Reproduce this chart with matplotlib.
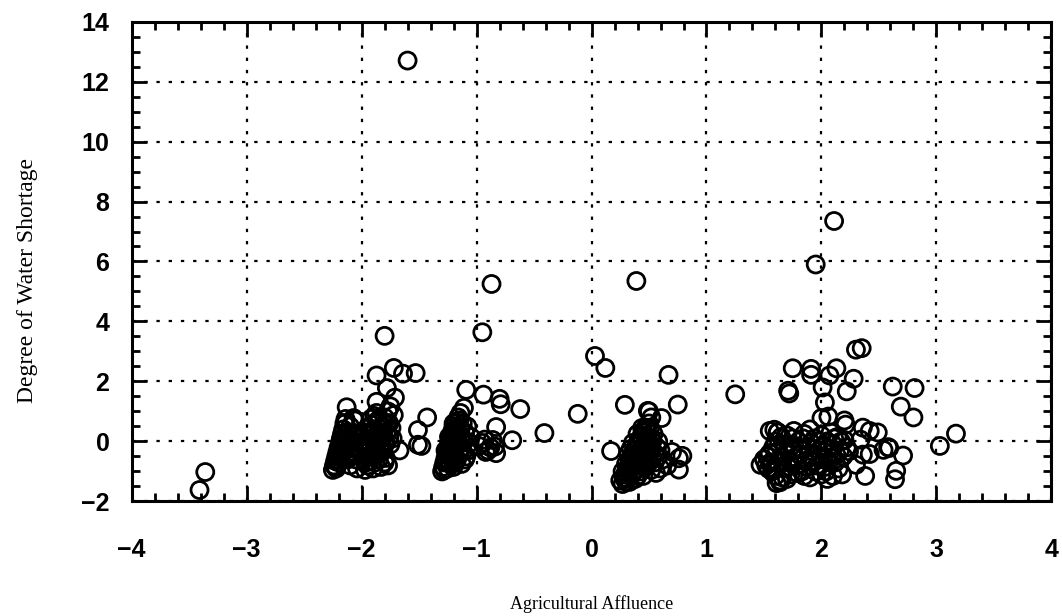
import numpy as np
import matplotlib.pyplot as plt
from matplotlib.ticker import MultipleLocator

# --- data (Agricultural Affluence, Degree of Water Shortage) ---
# isolated / outlying points
x_out = [-3.36, -3.41, -1.60, -0.87, 0.39, 1.95, 2.11,
         -1.80, -1.72, -1.87, -1.64, -1.53, -1.78, -1.71, -1.87, -2.13, -1.75,
         -1.43, -1.51, -1.48, -1.67, -2.07, -2.14, -1.72, -1.51,
         -0.95, -1.09, -0.94, -0.80, -0.79, -1.11, -0.83, -0.69, -0.62, -0.41, -0.12,
         -0.93, -0.84, -0.83, -0.98, -0.90,
         0.03, 0.12, 0.67, 0.75, 1.25, 0.29, 0.49, 0.50, 0.61, 0.17,
         0.76, 0.79, 0.76, 0.70, 0.66,
         2.13, 1.75, 1.91, 1.91, 2.07, 2.28, 2.22, 1.72, 2.62, 2.81, 2.01, 2.03,
         2.69, 2.80, 2.06, 2.20, 3.17, 3.03, 2.36, 2.42, 2.49, 2.58, 2.42, 2.71,
         2.38, 2.65, 2.64, 2.30, 2.35, 2.21, 2.34, 2.24, 2.59, 2.54, 1.62, 1.64,
         1.54, 2.30, 2.36, 1.59, 1.61, 1.47, 1.71, 2.00]
y_out = [-1.02, -1.62, 12.70, 5.25, 5.35, 5.90, 7.35,
         3.52, 2.45, 2.20, 2.26, 2.28, 1.78, 1.46, 1.32, 1.14, 1.17,
         0.80, 0.38, -0.15, -0.30, 0.78, 0.61, 0.88, -0.11,
         3.64, 1.72, 1.56, 1.42, 1.24, 1.12, 0.48, 0.04, 1.08, 0.28, 0.92,
         0.06, -0.17, -0.39, -0.15, -0.30,
         2.85, 2.45, 2.22, 1.23, 1.57, 1.22, 1.02, 1.00, 0.78, -0.32,
         -0.56, -0.48, -0.94, -0.35, -0.80,
         2.44, 2.44, 2.42, 2.22, 2.20, 2.09, 1.67, 1.60, 1.83, 1.78, 1.80, 1.30,
         1.16, 0.80, 0.83, 0.70, 0.26, -0.15, 0.46, 0.35, 0.30, -0.19, -0.42, -0.47,
         -1.15, -0.98, -1.26, 3.06, 3.11, 0.56, 0.06, -0.33, -0.22, -0.28, 0.31, -1.36,
         -0.91, -0.78, -0.44, 0.39, -1.39, -0.78, 1.69, 0.78]

# dense group around -2
x_a = [-2.25, -2.24, -2.23, -2.22, -2.21, -2.20, -2.19, -2.18, -2.17, -2.16, -2.15, -2.14,
       -2.22, -2.20, -2.18, -2.16, -2.14, -2.12, -2.10, -2.12, -2.10, -2.08, -2.06, -2.08,
       -2.10, -2.05, -2.04, -2.02, -2.00, -2.03, -2.06,
       -1.97, -1.95, -1.93, -1.96, -1.94, -1.92, -1.95, -1.90, -1.93, -1.88, -1.91, -1.86,
       -1.89, -1.90, -1.88, -1.86, -1.84, -1.86, -1.83, -1.85, -1.82, -1.80, -1.81, -1.79,
       -1.78, -1.76, -1.75, -1.77, -1.73, -1.74, -1.87, -1.92, -1.83, -1.80, -1.97, -1.99,
       -1.98, -1.77,
       -2.23, -2.21, -2.19, -2.17, -2.15, -2.13, -2.11, -2.09, -2.07, -2.05, -1.96, -1.94,
       -1.92, -1.90, -1.89, -1.87, -1.85, -1.84, -1.83, -1.82, -1.81, -1.79, -1.78, -1.76,
       -1.87, -1.91, -1.95, -1.85, -1.80, -1.88]
y_a = [-0.95, -0.80, -0.65, -0.50, -0.35, -0.20, -0.05, 0.10, 0.25, 0.40, 0.60, 0.75,
       -0.90, -0.70, -0.55, -0.30, -0.10, 0.10, -0.80, -0.60, -0.40, -0.20, 0.00, 0.30,
       0.50, -0.60, -0.90, -0.30, -0.10, 0.20, 0.70,
       -0.95, -0.80, -0.65, -0.50, -0.35, -0.20, -0.05, 0.10, 0.25, 0.40, 0.55, 0.70,
       0.85, -0.90, -0.70, -0.45, -0.25, -0.05, 0.15, 0.30, 0.50, 0.00, -0.30, -0.55,
       0.30, 0.60, -0.10, -0.80, 0.10, 0.45, 0.95, 0.75, -0.85, 0.80, 0.30, 0.00,
       -0.60, 1.00,
       -0.85, -0.60, -0.45, -0.15, 0.05, 0.30, -0.50, -0.05, -0.35, 0.15, -0.70, -0.15,
       0.10, 0.35, -0.40, 0.20, -0.60, 0.05, 0.40, -0.15, 0.25, -0.05, 0.55, 0.15,
       -0.10, -0.45, 0.45, 0.65, -0.70, 0.00]

# dense group around -1.2
x_b = [-1.30, -1.29, -1.28, -1.27, -1.26, -1.25, -1.24, -1.23, -1.22, -1.21, -1.20, -1.18,
       -1.16, -1.14, -1.25, -1.23, -1.22, -1.20, -1.19, -1.17, -1.16, -1.14, -1.12, -1.20,
       -1.17, -1.15, -1.13, -1.11, -1.10, -1.09, -1.07, -1.06, -1.13, -1.08, -1.05,
       -1.28, -1.26, -1.24, -1.22, -1.21, -1.19, -1.18, -1.17, -1.15, -1.23, -1.19, -1.16,
       -1.14, -1.12, -1.10, -1.27, -1.24, -1.20, -0.95, -0.88, -0.86, -0.92]
y_b = [-1.00, -0.85, -0.70, -0.55, -0.40, -0.25, -0.10, 0.05, 0.20, 0.35, 0.50, 0.65,
       0.80, 0.95, -0.90, -0.75, -0.55, -0.35, -0.15, 0.00, 0.20, 0.40, 0.60, -0.85,
       -0.60, -0.40, -0.20, 0.05, 0.30, -0.50, -0.30, -0.05, -0.75, 0.50, 0.15,
       -0.95, -0.65, -0.45, -0.30, -0.05, 0.10, 0.30, 0.45, 0.70, -0.20, -0.70, -0.10,
       0.10, -0.35, -0.60, -0.30, 0.15, 0.60, -0.05, -0.20, 0.05, -0.35]

# dense group around 0.4
x_c = [0.27, 0.30, 0.25, 0.28, 0.30, 0.32, 0.27, 0.30, 0.33, 0.35, 0.37, 0.39, 0.41, 0.43,
       0.45, 0.47, 0.35, 0.38, 0.40, 0.42, 0.44, 0.46, 0.48, 0.50, 0.52, 0.54, 0.50, 0.52,
       0.43, 0.47, 0.50, 0.53, 0.55, 0.57, 0.58, 0.34, 0.36, 0.40, 0.60, 0.56, 0.62, 0.38,
       0.32, 0.45,
       0.29, 0.31, 0.33, 0.35, 0.36, 0.38, 0.39, 0.41, 0.42, 0.44, 0.46, 0.48, 0.41, 0.44,
       0.46, 0.48, 0.50, 0.51, 0.53, 0.49, 0.55, 0.52, 0.58, 0.60, 0.37, 0.33, 0.47, 0.44,
       0.51, 0.40]
y_c = [-1.42, -1.35, -1.30, -1.20, -1.05, -0.90, -1.00, -0.75, -0.60, -0.45, -0.30, -0.15,
       0.00, 0.15, 0.30, 0.45, -1.10, -0.95, -0.80, -0.65, -0.50, -0.35, -0.20, -0.05,
       0.10, 0.25, 0.60, 0.80, -1.00, -0.85, -0.70, -0.55, -0.40, -0.20, 0.00, -0.25,
       -0.05, 0.25, -0.90, -1.05, -0.60, -1.25, -0.40, -1.15,
       -1.10, -1.25, -0.95, -0.70, -0.85, -0.50, -0.65, -0.35, -0.10, 0.05, 0.20, 0.35,
       -0.90, -0.75, -0.60, -0.45, -0.30, -0.15, 0.00, 0.15, -0.70, -0.95, -0.50, -0.30,
       -1.00, -1.35, 0.05, 0.45, 0.45, -1.15]

# dense group around 1.9
x_d = [1.50, 1.52, 1.55, 1.57, 1.58, 1.60, 1.62, 1.62, 1.64, 1.65, 1.67, 1.68, 1.70, 1.72,
       1.73, 1.75, 1.76, 1.78, 1.80, 1.81, 1.83, 1.85, 1.86, 1.88, 1.90, 1.90, 1.92, 1.94,
       1.96, 1.98, 2.00, 2.02, 2.04, 2.05, 2.07, 2.08, 2.10, 2.12, 2.14, 2.16, 2.18, 2.20,
       2.05, 2.10, 1.70, 1.55,
       1.53, 1.56, 1.59, 1.61, 1.63, 1.66, 1.69, 1.71, 1.74, 1.77, 1.79, 1.82, 1.84, 1.87,
       1.89, 1.91, 1.93, 1.95, 1.97, 1.99, 2.01, 2.03, 2.06, 2.09, 2.11, 2.13, 2.15, 2.17,
       2.19, 2.22, 1.60, 1.66, 1.85, 2.00, 1.75, 1.65]
y_d = [-0.60, -0.80, -0.40, -1.00, -0.20, 0.00, -0.70, 0.30, -1.30, -0.50, -0.90, -0.10,
       0.20, -0.60, -1.10, -0.30, 0.35, -0.80, 0.00, -0.45, -1.00, 0.25, -0.65, -0.20,
       0.40, -1.20, -0.50, 0.10, -0.80, -0.30, 0.20, -0.60, -1.00, 0.00, -0.40, 0.30,
       -0.10, -0.70, 0.15, -0.30, -1.10, 0.05, -1.25, -1.15, -1.25, 0.35,
       -0.50, -0.70, -0.90, -0.35, -0.10, -0.65, -0.40, -0.85, -0.15, -0.55, -1.05, -0.25,
       0.10, -0.85, -0.45, -0.05, -0.70, -1.00, 0.00, -0.55, -0.15, -0.85, -0.25, -0.55,
       0.10, -0.45, -0.90, 0.00, -0.50, -0.20, -1.15, -1.20, -1.15, -1.10, 0.10, 0.15]

x_all = x_out + x_a + x_b + x_c + x_d
y_all = y_out + y_a + y_b + y_c + y_d

fig = plt.figure(figsize=(10.62, 6.16), dpi=100)
ax = fig.add_axes([0.124, 0.186, 0.866, 0.779])

ax.scatter(x_all, y_all, s=150, facecolors='none', edgecolors='black', linewidths=2.0, zorder=3)

ax.set_xlim(-4, 4)
ax.set_ylim(-2, 14)
ax.xaxis.set_major_locator(MultipleLocator(1))
ax.xaxis.set_minor_locator(MultipleLocator(0.2))
ax.yaxis.set_major_locator(MultipleLocator(2))
ax.yaxis.set_minor_locator(MultipleLocator(0.5))

ax.grid(True, which='major', color='black', linestyle=(0, (1.5, 4)), linewidth=1.6)
ax.tick_params(which='both', direction='in', top=True, right=True, width=2, color='black')
ax.tick_params(which='major', length=11)
ax.tick_params(which='minor', length=6)
ax.tick_params(axis='x', which='major', pad=26)
ax.tick_params(axis='y', which='major', pad=16)
for sp in ax.spines.values():
    sp.set_linewidth(2.2)

for lab in ax.get_xticklabels() + ax.get_yticklabels():
    lab.set_fontfamily(['Liberation Sans Narrow', 'Liberation Sans'])
    lab.set_fontweight('bold')
    lab.set_fontsize(18)

ax.set_xlabel('Agricultural Affluence', family='Liberation Serif', fontsize=13, labelpad=24)
ax.set_ylabel('Degree of Water Shortage', family='Liberation Serif', fontsize=17)
ax.yaxis.set_label_coords(-0.102, 0.46)

plt.savefig('out.png', dpi=100)
